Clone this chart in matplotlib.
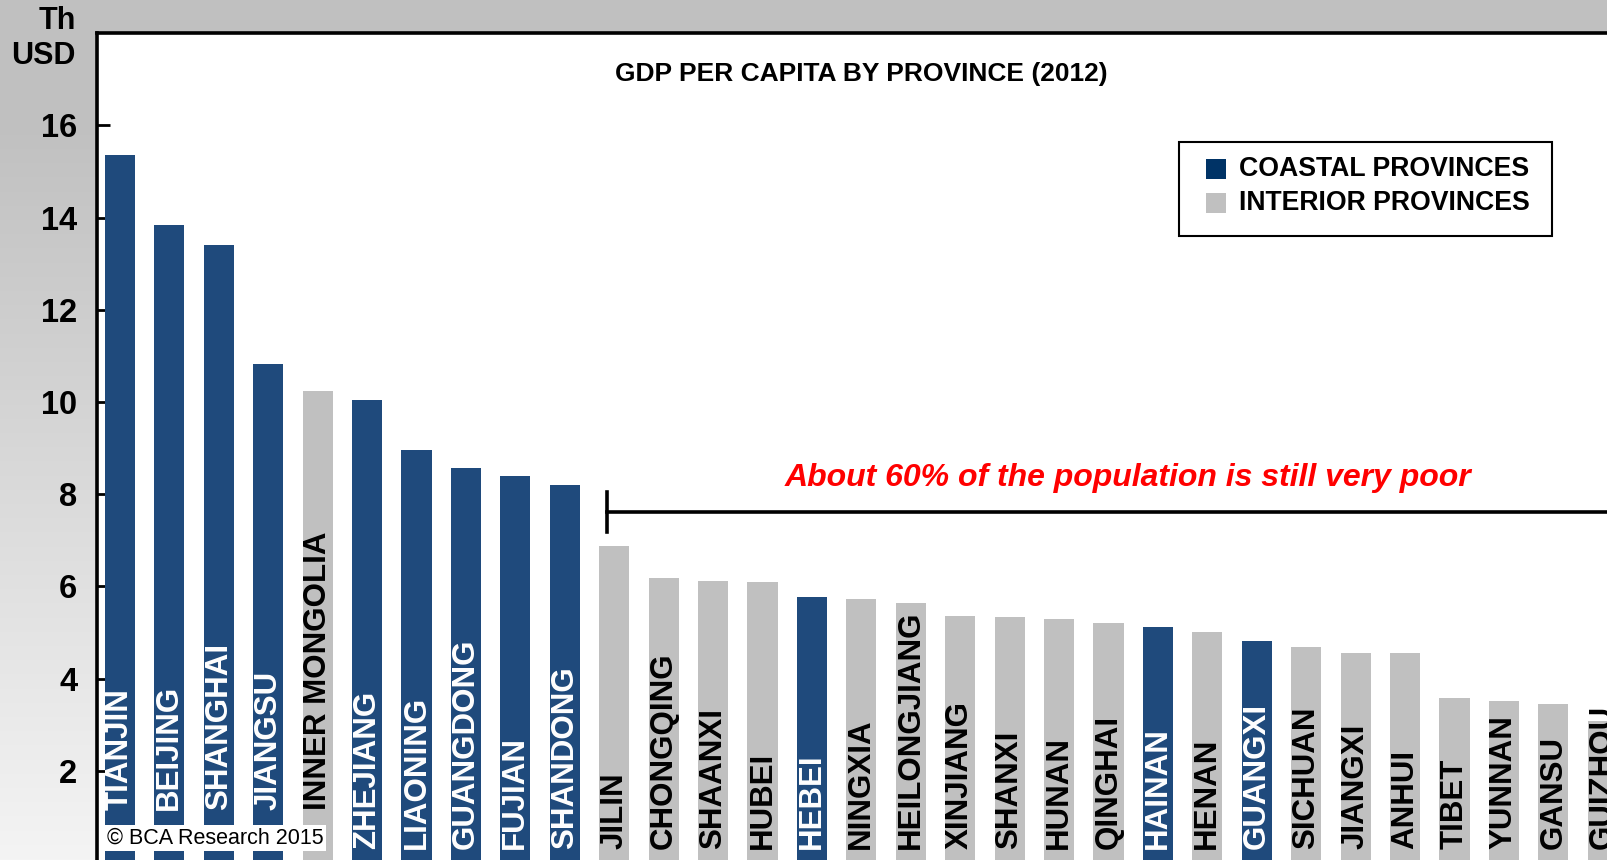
import numpy as np
import matplotlib.pyplot as plt
from matplotlib.patches import Rectangle

plt.rcParams['font.family'] = ['Liberation Sans', 'DejaVu Sans']

provinces = ['TIANJIN', 'BEIJING', 'SHANGHAI', 'JIANGSU', 'INNER MONGOLIA',
             'ZHEJIANG', 'LIAONING', 'GUANGDONG', 'FUJIAN', 'SHANDONG',
             'JILIN', 'CHONGQING', 'SHAANXI', 'HUBEI', 'HEBEI', 'NINGXIA',
             'HEILONGJIANG', 'XINJIANG', 'SHANXI', 'HUNAN', 'QINGHAI',
             'HAINAN', 'HENAN', 'GUANGXI', 'SICHUAN', 'JIANGXI', 'ANHUI',
             'TIBET', 'YUNNAN', 'GANSU', 'GUIZHOU']
gdp = [15.35, 13.83, 13.41, 10.83, 10.23, 10.05, 8.96, 8.57, 8.39, 8.21,
       6.88, 6.19, 6.12, 6.10, 5.78, 5.73, 5.65, 5.36, 5.34, 5.30, 5.21,
       5.12, 5.01, 4.81, 4.68, 4.56, 4.56, 3.58, 3.52, 3.45, 3.09]
coastal = ['TIANJIN', 'BEIJING', 'SHANGHAI', 'JIANGSU', 'ZHEJIANG', 'LIAONING',
           'GUANGDONG', 'FUJIAN', 'SHANDONG', 'HEBEI', 'HAINAN', 'GUANGXI']
yticks = [2, 4, 6, 8, 10, 12, 14, 16]
legend_labels = ['COASTAL PROVINCES', 'INTERIOR PROVINCES']

navy = '#1f4a7c'
grey = '#c0c0c0'

W, H = 1608, 860
fig = plt.figure(figsize=(W / 100, H / 100), dpi=100)


def px(x, y):
    # pixel position from the top-left corner -> figure fraction
    return x / W, 1 - y / H


# grey backdrop fading lighter towards the bottom
bg = fig.add_axes([0, 0, 1, 1], zorder=-2)
rows = np.linspace(0, 1, H)
shade = np.clip((rows - 0.14) / 0.86, 0, 1) * (0.957 - 0.753) + 0.753
bg.imshow(np.repeat(shade[:, None], 2, axis=1)[:, :, None].repeat(3, axis=2),
          aspect='auto', extent=[0, 1, 0, 1])
bg.axis('off')

ax = fig.add_axes([0.0601, -0.0037, 0.952, 0.9653])
ax.set_facecolor('white')

x = np.arange(len(provinces))
colors = [navy if p in coastal else grey for p in provinces]
ax.bar(x, gdp, width=0.61, color=colors, zorder=2)

for i, p in enumerate(provinces):
    ybase = 1.16 if i < 5 else 0.3
    ax.text(i, ybase, p, rotation=90, ha='center', va='bottom',
            fontsize=22.5, fontweight='bold',
            color='white' if p in coastal else 'black', zorder=3)

ax.set_xlim(-0.47, 30.5)
ax.set_ylim(0, 18)
ax.set_xticks([])
ax.set_yticks(yticks)
ax.set_yticklabels([str(v) for v in yticks], fontsize=23.5, fontweight='bold')
ax.tick_params(axis='y', direction='in', length=9, width=2, pad=14)
for side in ['right', 'bottom']:
    ax.spines[side].set_visible(False)
for side in ['left', 'top']:
    ax.spines[side].set_linewidth(2.6)

ax.text(15, 17.12, 'GDP PER CAPITA BY PROVINCE (2012)', ha='center', va='center',
        fontsize=19, fontweight='bold')

fig.text(*px(76, 6), 'Th\nUSD', ha='right', va='top',
         multialignment='right', fontsize=22, fontweight='bold')

# bracket over the poorer provinces
ax.plot([9.85, 31], [7.61, 7.61], color='black', lw=2.6, zorder=4, clip_on=False)
ax.plot([9.85, 9.85], [7.19, 8.04], color='black', lw=2.6, zorder=4)
ax.text(20.4, 8.36, 'About 60% of the population is still very poor',
        ha='center', va='center', color='red', fontsize=23,
        fontweight='bold', fontstyle='italic')

# legend box
x0, y0 = px(1179, 236)
x1, y1 = px(1552, 142)
fig.patches.append(Rectangle((x0, y0), x1 - x0, y1 - y0, transform=fig.transFigure,
                             facecolor='white', edgecolor='black', lw=1.5, zorder=5))
for k, (lab, col) in enumerate(zip(legend_labels, ['#003366', grey])):
    yc = 169 + 34 * k
    sx, sy = px(1206, yc + 10)
    fig.patches.append(Rectangle((sx, sy), 20 / W, 20 / H, transform=fig.transFigure,
                                 facecolor=col, edgecolor='none', zorder=6))
    fig.text(*px(1239, yc), lab, ha='left', va='center', fontsize=19.2,
             fontweight='bold', zorder=6)

ax.text(-0.263, 0.42, '\u00a9 BCA Research 2015', ha='left', va='baseline',
        fontsize=15.5, zorder=5,
        bbox=dict(boxstyle='square,pad=0.12', facecolor='white', edgecolor='none'))

fig.savefig('out.png', dpi=100)
